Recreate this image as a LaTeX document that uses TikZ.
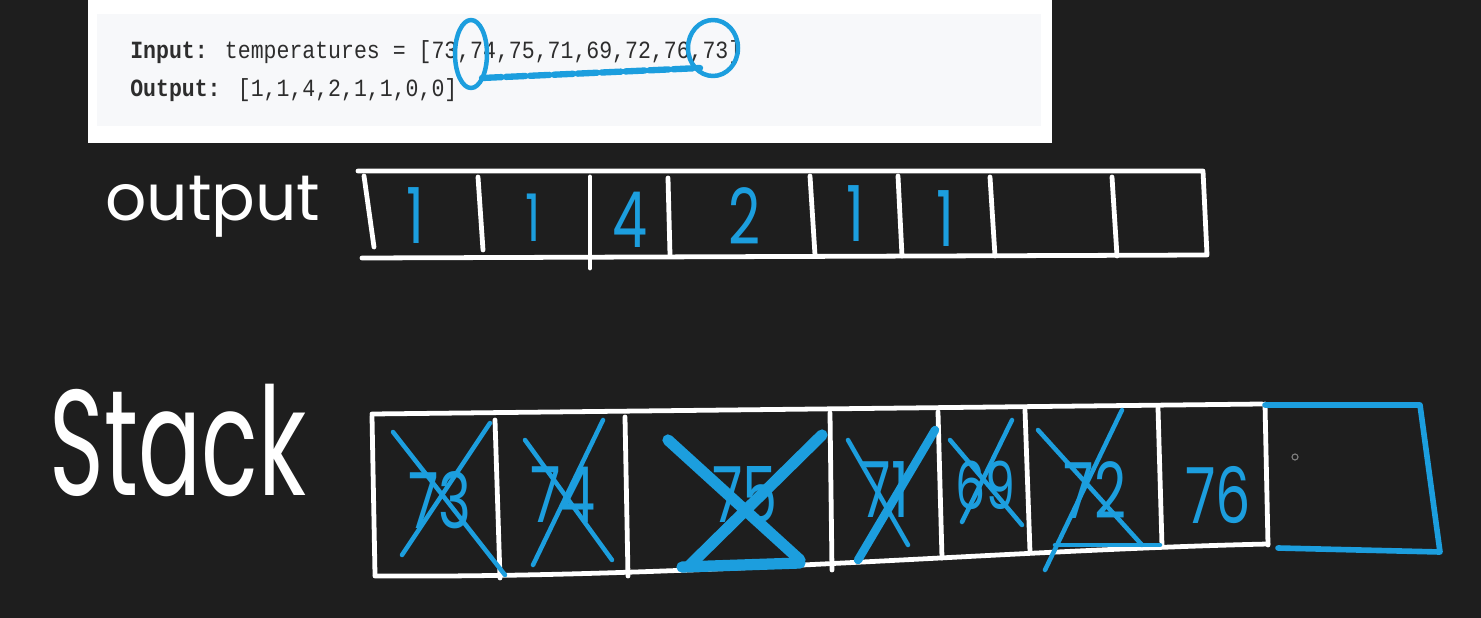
\documentclass[tikz,border=0pt]{standalone}
\usepackage{fontspec}
\setmainfont{Poppins}
\newfontfamily\codefont{Liberation Mono}
\newfontfamily\handfont{Poppins}
\usetikzlibrary{arrows.meta}

\definecolor{board}{RGB}{30,30,30}
\definecolor{ink}{RGB}{28,158,222}
\definecolor{panel}{RGB}{247,248,250}
\definecolor{codetext}{RGB}{45,45,45}

\begin{document}
\begin{tikzpicture}[
						x=0.025cm, y=-0.025cm,
						line cap=round,
						line join=round,
						chalk/.style={draw=white, line width=3.4pt},
						pen/.style={draw=ink, line width=3.2pt},
						heavypen/.style={draw=ink, line width=8pt},
						code/.style={font=\codefont\fontsize{15.3}{18}\selectfont, text=codetext, anchor=west, inner sep=0pt, yscale=1.15},
						digit/.style={font=\handfont\fontsize{55}{55}\selectfont, text=ink, inner sep=0pt, xscale=0.72},
						label/.style={font=\handfont\fontsize{46}{46}\selectfont, text=white, inner sep=0pt}
						]
						
						\useasboundingbox (0,0) rectangle (1481,618);
						\fill[board] (0,0) rectangle (1481,618);
						
						% problem statement panel
						\fill[white] (88,0) rectangle (1052,143);
						\fill[panel] (97,14) rectangle (1041,126);
						\node[code] (inputline) at (130,52) {{\bfseries Input:} temperatures = [73,74,75,71,69,72,76,73]};
						\node[code] (outputline) at (130,90) {{\bfseries Output:} [1,1,4,2,1,1,0,0]};
						
						\draw[pen] (471,54) ellipse [x radius=16, y radius=34];
						\draw[pen] (713,48) ellipse [x radius=25, y radius=28];
						\draw[pen, line width=4.5pt, dash pattern=on 14pt off 3pt] (482,78) -- (700,68);
						
						% output array
						\node[label] (outlabel) at (213,207) {output};
						
						\draw[chalk] (358,171) -- (1203,171) -- (1207,255) -- (362,258);
						\draw[chalk] (364,176) -- (374,247);
						\draw[chalk] (478,177) -- (483,250);
						\draw[chalk] (590,177) -- (590,268);
						\draw[chalk] (668,178) -- (670,255);
						\draw[chalk] (810,176) -- (815,255);
						\draw[chalk] (898,176) -- (902,256);
						\draw[chalk] (990,177) -- (995,256);
						\draw[chalk] (1112,177) -- (1117,256);
						
						\node[digit] (o1) at (415,216) {1};
						\node[digit, scale=0.85] (o2) at (533,218) {1};
						\node[digit] (o3) at (630,220) {4};
						\node[digit] (o4) at (745,216) {2};
						\node[digit] (o5) at (855,214) {1};
						\node[digit] (o6) at (945,219) {1};
						
						% stack
						\node[label, font=\handfont\fontsize{107}{107}\selectfont, xscale=0.62] (stacklabel) at (178,440) {Stack};
						
						\draw[chalk] (372,414) -- (1262,404);
						\draw[chalk] (372,416) -- (375,575);
						\draw[chalk] (375,576) .. controls (700,578) and (1000,550) .. (1268,544);
						\draw[chalk] (495,420) -- (500,578);
						\draw[chalk] (625,417) -- (628,576);
						\draw[chalk] (830,413) -- (832,570);
						\draw[chalk] (938,412) -- (942,558);
						\draw[chalk] (1025,410) -- (1030,552);
						\draw[chalk] (1158,408) -- (1162,546);
						\draw[chalk] (1265,404) -- (1268,545);
						
						\draw[pen, line width=4pt] (1265,405) -- (1420,405) -- (1440,552) -- (1278,548);
						\draw[gray, line width=0.8pt] (1295,457) circle (3);
						
						\node[digit] (s1) at (440,500) {73};
						\node[digit] (s2) at (563,495) {74};
						\node[digit] (s3) at (745,495) {75};
						\node[digit] (s4) at (885,490) {71};
						\node[digit, scale=0.85] (s5) at (985,485) {69};
						\node[digit] (s6) at (1095,490) {72};
						\node[digit] (s7) at (1218,495) {76};
						
						% crossed out entries
						\draw[pen] (393,432) -- (505,575);
						\draw[pen] (490,423) -- (402,555);
						\draw[pen] (525,440) -- (612,560);
						\draw[pen] (603,420) -- (533,565);
						\draw[heavypen] (668,440) -- (800,560);
						\draw[heavypen] (822,435) -- (690,565);
						\draw[heavypen] (682,567) -- (800,563);
						\draw[pen] (848,440) -- (908,545);
						\draw[heavypen, line width=6pt] (935,430) -- (858,560);
						\draw[pen] (950,440) -- (1022,525);
						\draw[pen] (1012,420) -- (962,522);
						\draw[pen] (1038,430) -- (1142,545);
						\draw[pen] (1122,410) -- (1045,570);
						\draw[pen] (1055,545) -- (1160,545);
						
					\end{tikzpicture}
\end{document}
